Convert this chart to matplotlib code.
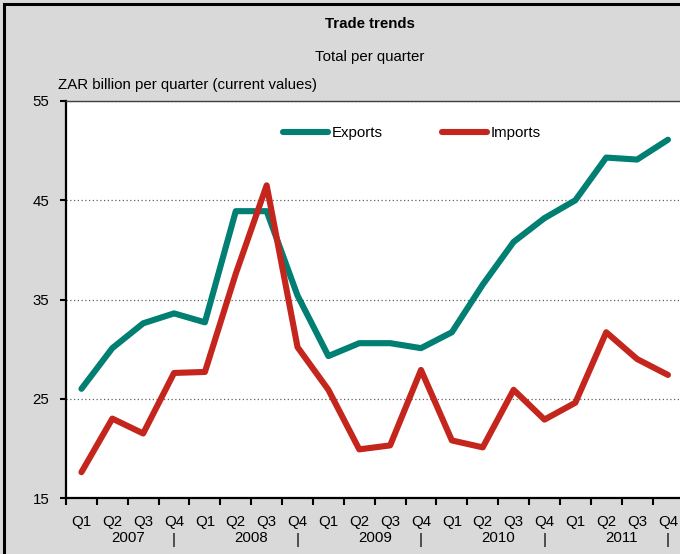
import matplotlib
matplotlib.use("Agg")
import matplotlib.pyplot as plt
from matplotlib.patches import Rectangle
from matplotlib.ticker import FixedLocator, NullFormatter

plt.rcParams['font.family'] = ['Liberation Sans', 'DejaVu Sans']

# quarterly trade, ZAR billion
quarters = ['Q1', 'Q2', 'Q3', 'Q4'] * 5
years = ['2007', '2008', '2009', '2010', '2011']
exports = [26.0, 30.1, 32.6, 33.6, 32.7, 43.9, 43.9, 35.4, 29.3, 30.6,
           30.6, 30.1, 31.7, 36.5, 40.8, 43.2, 45.0, 49.3, 49.1, 51.1]
imports = [17.6, 23.0, 21.5, 27.6, 27.7, 37.6, 46.5, 30.2, 25.9, 19.9,
           20.3, 27.9, 20.8, 20.1, 25.9, 22.9, 24.6, 31.7, 29.0, 27.4]

bg = '#d9d9d9'
fs = 10.8
fig = plt.figure(figsize=(6.8, 5.54), dpi=100, facecolor=bg)

# outer frame of the chart
fig.patches.append(Rectangle((4 / 680, -0.5), 2.0, 1.5 - 4 / 554, transform=fig.transFigure,
                             fill=False, edgecolor='black', linewidth=2.2))

ax = fig.add_axes([66 / 680, 56 / 554, 617.4 / 680, 397 / 554])
ax.set_facecolor('white')

x = range(len(quarters))
ax.plot(x, exports, color='#007f72', linewidth=4.4, label='Exports', solid_capstyle='round')
ax.plot(x, imports, color='#c4261d', linewidth=4.4, label='Imports', solid_capstyle='round')

ax.set_xlim(-0.5, len(quarters) - 0.5)
ax.set_ylim(15, 55)
ax.set_yticks([15, 25, 35, 45, 55])
ax.yaxis.grid(True, linestyle=(0, (1, 2)), color='#606060', linewidth=0.9)
ax.set_axisbelow(True)

# quarter labels at centres, tick marks between quarters
ax.set_xticks(list(x))
ax.set_xticklabels(quarters)
ax.tick_params(axis='x', which='major', length=0, pad=12, labelsize=fs)
ax.xaxis.set_minor_locator(FixedLocator([i + 0.5 for i in range(-1, len(quarters))]))
ax.xaxis.set_minor_formatter(NullFormatter())
ax.tick_params(axis='x', which='minor', length=5, width=1.5, direction='out', color='black')
ax.tick_params(axis='y', length=4, width=1.5, labelsize=fs, pad=8)

for k, yr in enumerate(years):
    ax.text(4 * k + 1.5, -0.1, yr, transform=ax.get_xaxis_transform(),
            ha='center', va='center', fontsize=fs)
    ax.text(4 * k + 3, -0.105, '|', transform=ax.get_xaxis_transform(),
            ha='center', va='center', fontsize=fs)

for s in ['left', 'bottom']:
    ax.spines[s].set_linewidth(1.6)
    ax.spines[s].set_color('black')
ax.spines['right'].set_visible(False)
ax.spines['top'].set_linestyle((0, (1, 1)))
ax.spines['top'].set_linewidth(1.0)
ax.spines['top'].set_color('#404040')

leg = ax.legend(ncol=2, loc='center', bbox_to_anchor=(346 / 617.4, 0.919), frameon=False,
                fontsize=fs, handlelength=3.0, handletextpad=0.2, columnspacing=4.0)

fig.text(370 / 680, 1 - 24 / 554, 'Trade trends', ha='center', va='center',
         fontsize=fs, fontweight='bold')
fig.text(370 / 680, 1 - 57 / 554, 'Total per quarter', ha='center', va='center', fontsize=fs)
fig.text(58 / 680, 1 - 85 / 554, 'ZAR billion per quarter (current values)',
         ha='left', va='center', fontsize=fs)

fig.savefig('out.png', dpi=100, facecolor=bg)
